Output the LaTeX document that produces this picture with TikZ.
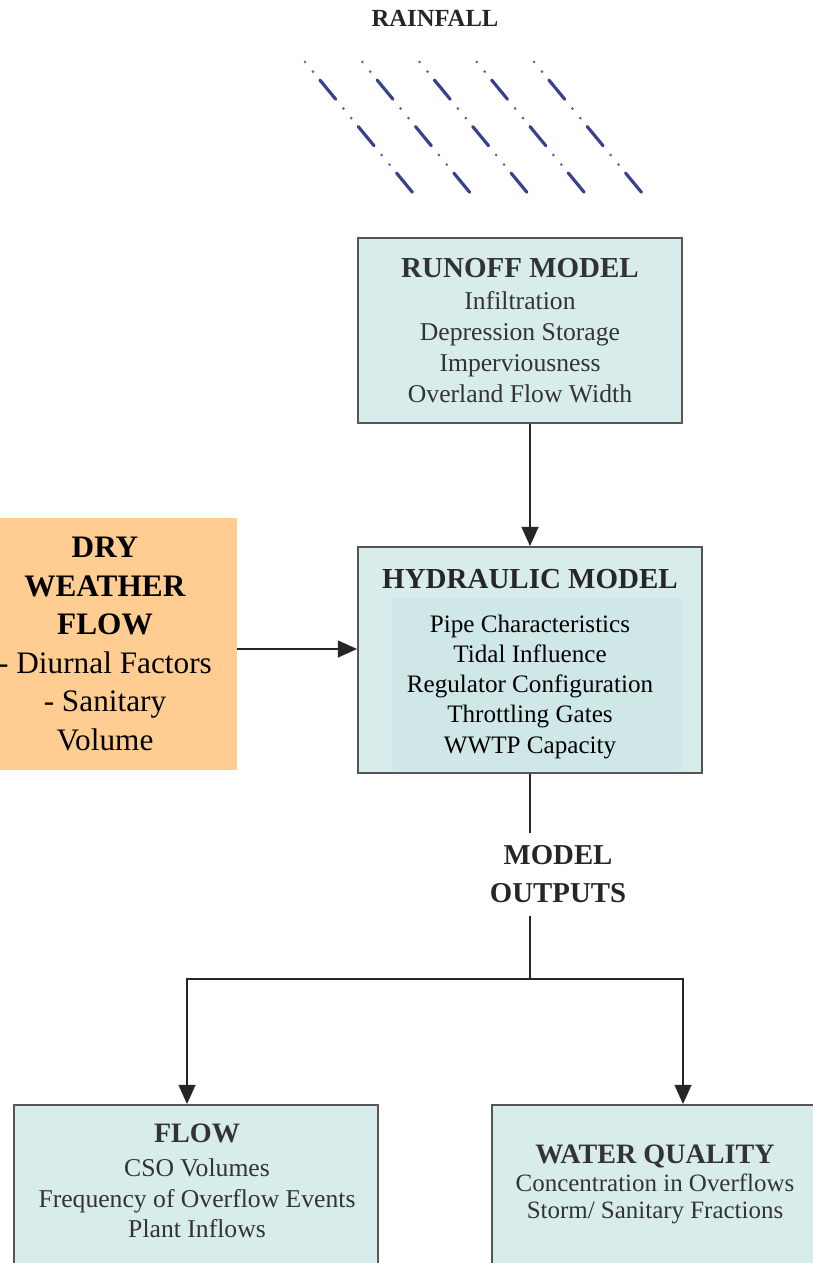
\documentclass[tikz,border=0pt]{standalone}
\usepackage{fontspec}
\setmainfont{LiberationSerif}[
  Extension=.ttf,
  UprightFont=*-Regular,
  BoldFont=*-Bold,
  ItalicFont=*-Italic,
  BoldItalicFont=*-BoldItalic]
\usetikzlibrary{arrows.meta}
\usetikzlibrary{positioning}
\definecolor{boxcyan}{RGB}{217,236,236}
\definecolor{panelcyan}{RGB}{207,231,231}
\definecolor{dryorange}{RGB}{255,205,145}
\definecolor{edgegray}{RGB}{85,85,85}
\definecolor{raindash}{RGB}{55,65,140}
\definecolor{raindot}{RGB}{95,100,145}
\tikzset{
  modelbox/.style={
    draw=edgegray,
    line width=1pt,
    fill=boxcyan,
    inner sep=0pt
  },
  flowline/.style={line width=1.4pt, draw=black!85},
  flowarrow/.style={
    flowline,
    -{Triangle[length=11pt,width=9.5pt]}
  },
  raindots/.style={
    draw=raindot, line width=1.7pt, line cap=round,
    dash pattern=on 0pt off 7.09pt on 0pt off 27.2pt
  },
  raindashes/.style={
    draw=raindash, line width=1.8pt, line cap=round,
    dash pattern=on 14.2pt off 20.1pt, dash phase=21.0pt
  }
}

\begin{document}
\begin{tikzpicture}[x=0.02cm, y=-0.02cm]

\useasboundingbox (0,0) rectangle (812,1263);

% Rainfall
\node [anchor=base,
    font=\fontsize{14}{17}\selectfont\bfseries,
    text=black!85
] (rainfall) at (435,27) {RAINFALL};

\foreach \i in {0,...,4} {
  \draw[raindots] (305+57.25*\i,62) -- ++(108,131);
  \draw[raindashes] (305+57.25*\i,62) -- ++(108,131);
}

% Runoff model
\node [modelbox,
    minimum width=6.48cm,
    minimum height=3.7cm,
    align=center,
    text=black!80,
    font=\fontsize{14.6}{17.6}\selectfont
] (runoff) at (520,330.5) {{\fontsize{16.5}{19}\selectfont\bfseries RUNOFF MODEL}\\[1pt]
    Infiltration\\ Depression Storage\\ Imperviousness\\ Overland Flow Width};

% Hydraulic model
\node [modelbox,
    minimum width=6.88cm,
    minimum height=4.52cm
] (hyd) at (530,660) {};

\node [fill=panelcyan,
    inner sep=0pt,
    minimum width=5.8cm,
    minimum height=3.46cm
] (hydpanel) at (537,684.5) {};

\node [align=center,
    font=\fontsize{14.3}{17.15}\selectfont
] (hydtext) at ([yshift=-0.08cm]hyd.center) {{\fontsize{16.5}{19}\selectfont\bfseries\color{black!85}HYDRAULIC MODEL}\\[7.8pt]
    Pipe Characteristics\\ Tidal Influence\\ Regulator Configuration\\ Throttling Gates\\ WWTP Capacity};

% Dry weather flow
\node [fill=dryorange,
    inner sep=0pt,
    minimum width=5.28cm,
    minimum height=5.04cm,
    align=center,
    font=\fontsize{17.8}{22}\selectfont
] (dry) at (105,644) {\textbf{DRY}\\ \textbf{WEATHER}\\ \textbf{FLOW}\\
    - Diurnal Factors\\ - Sanitary\\ Volume};

% Model outputs
\node [align=center,
    inner sep=7pt,
    text=black!85,
    font=\fontsize{16.4}{21.5}\selectfont\bfseries
] (outputs) at (558,874.4) {MODEL\\ OUTPUTS};

\coordinate (split) at (530,979);

% Output boxes
\node [modelbox,
    minimum width=7.28cm,
    minimum height=3.8cm
] (flowbox) at (196,1200) {};

\node [modelbox,
    minimum width=6.52cm,
    minimum height=3.8cm
] (waterbox) at (655,1200) {};

\node [align=center,
    text=black!80,
    font=\fontsize{14.6}{17.3}\selectfont
] (flowtext) at (197,1180.7) {{\fontsize{16}{19}\selectfont\bfseries FLOW}\\[2.5pt]
    CSO Volumes\\ Frequency of Overflow Events\\ Plant Inflows};

\node [align=center,
    text=black!80,
    font=\fontsize{14.2}{15.9}\selectfont
] (watertext) at (655,1184.4) {{\fontsize{16}{19}\selectfont\bfseries WATER QUALITY}\\
    Concentration in Overflows\\ Storm/ Sanitary Fractions};

% Connectors
\draw[flowarrow] (runoff.south -| hyd.north) -- (hyd.north);
\draw[flowarrow] ([yshift=-0.1cm]dry.east) -- ([yshift=-0.1cm]dry.east -| hyd.west);

\draw[flowline] (hyd.south) -- (hyd.south |- outputs.north);
\draw[flowline] (hyd.south |- outputs.south) -- (split);
\draw[flowarrow] (split) -| ([xshift=-0.18cm]flowbox.north);
\draw[flowarrow] (split) -| ([xshift=0.56cm]waterbox.north);

\end{tikzpicture}
\end{document}
